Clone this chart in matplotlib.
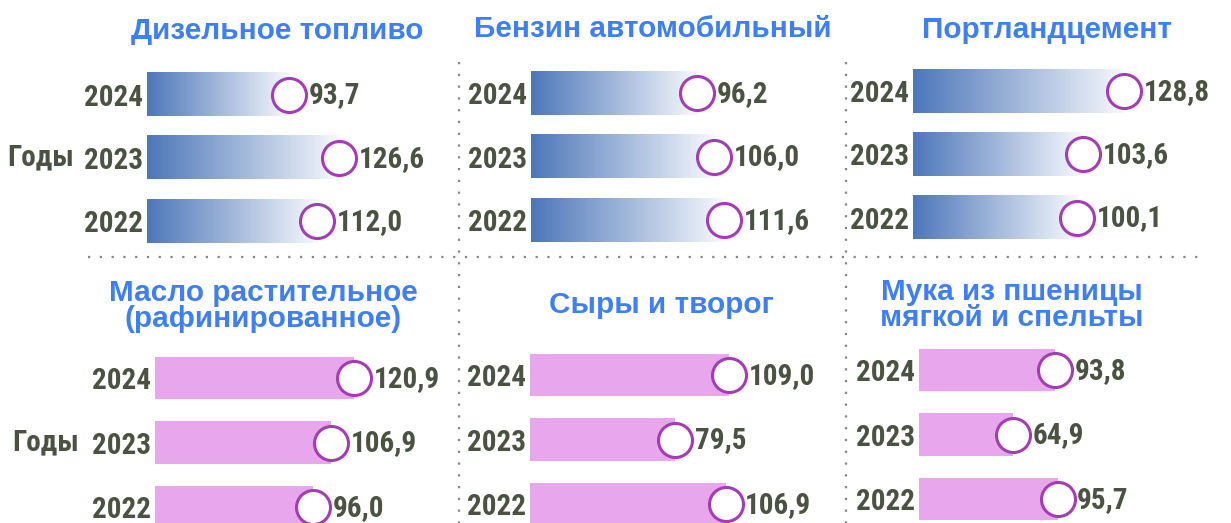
"""Six small bar panels: price indices by product, 2022-2024."""

import matplotlib

matplotlib.use("Agg")
import matplotlib.pyplot as plt
import numpy as np
from matplotlib.colors import LinearSegmentedColormap
from matplotlib.lines import Line2D

years = ["2024", "2023", "2022"]

titles = [
    "Дизельное топливо",
    "Бензин автомобильный",
    "Портландцемент",
    "Масло растительное\n(рафинированное)",
    "Сыры и творог",
    "Мука из пшеницы\nмягкой и спельты",
]

diesel = [93.7, 126.6, 112.0]
petrol = [96.2, 106.0, 111.6]
cement = [128.8, 103.6, 100.1]
oil = [120.9, 106.9, 96.0]
cheese = [109.0, 79.5, 106.9]
flour = [93.8, 64.9, 95.7]

series = [diesel, petrol, cement, oil, cheese, flour]

W, H = 1231, 523
NUM_FONT = ["Roboto Condensed", "PT Sans Narrow", "DejaVu Sans"]
TITLE_FONT = ["Liberation Sans", "DejaVu Sans"]
NUM_SIZE = 21
TXT = "#4a5342"
BLUE_T = "#3f7ff5"
PINK = "#e8a6ec"
RING = "#a33cb5"
blue_cmap = LinearSegmentedColormap.from_list("fade", ["#4d77b9", "#f7f9fd"])

# panel layout in pixels: bar start x, top y, row step, px per unit, title centre
layout = [
    dict(x0=147, top=63.0, step=63.3, scale=1.52, tx=277, ty=31),
    dict(x0=531, top=61.3, step=63.5, scale=1.73, tx=653, ty=29),
    dict(x0=913, top=59.4, step=63.3, scale=1.64, tx=1047, ty=30),
    dict(x0=155, top=345.8, step=64.5, scale=1.65, tx=263, ty=306),
    dict(x0=530, top=342.8, step=64.5, scale=1.83, tx=661, ty=305),
    dict(x0=919, top=337.8, step=64.5, scale=1.45, tx=1012, ty=305),
]


def px_rect(left, top, width, height):
    return [left / W, 1 - (top + height) / H, width / W, height / H]


fig = plt.figure(figsize=(W / 100, H / 100), dpi=100)

ypos = np.array([2, 1, 0])
for i, (vals, lay, title) in enumerate(zip(series, layout, titles)):
    width_px = 330
    ax = fig.add_axes(px_rect(lay["x0"], lay["top"], width_px, 3 * lay["step"]))
    top_row = i < 3
    h = 0.68 if top_row else 0.66
    for v, y in zip(vals, ypos):
        if top_row:
            ax.imshow(np.linspace(0, 1, 256).reshape(1, -1), cmap=blue_cmap,
                      extent=(0, v, y - h / 2, y + h / 2), aspect="auto", zorder=1)
        else:
            ax.barh(y, v, height=h, color=PINK, zorder=1)
    ax.plot(vals, ypos, "o", ms=24.5, mfc="white", mec=RING, mew=2.2,
            zorder=3, clip_on=False)
    for v, y in zip(vals, ypos):
        ax.annotate(f"{v:.1f}".replace(".", ","), (v, y), xytext=(14, -0.5),
                    textcoords="offset points", ha="left", va="center",
                    fontsize=NUM_SIZE, fontweight="bold", color=TXT, family=NUM_FONT,
                    annotation_clip=False)
    ax.set_xlim(0, width_px / lay["scale"])
    ax.set_ylim(-0.5, 2.5)
    ax.set_yticks(ypos)
    ax.set_yticklabels(years, fontsize=NUM_SIZE, fontweight="bold", color=TXT,
                       family=NUM_FONT)
    ax.tick_params(axis="y", length=0, pad=3)
    ax.set_xticks([])
    for s in ax.spines.values():
        s.set_visible(False)
    ax.patch.set_alpha(0)
    fig.text(lay["tx"] / W, 1 - lay["ty"] / H, title, ha="center", va="center",
             fontsize=21.4, fontweight="bold", color=BLUE_T, family=TITLE_FONT,
             linespacing=0.95)

for x, y in [(41, 157), (46, 442)]:
    fig.text(x / W, 1 - y / H, "Годы", ha="center", va="center", fontsize=NUM_SIZE,
             fontweight="bold", color=TXT, family=NUM_FONT)

dots = dict(color="#858585", lw=1.6, linestyle=(0, (1, 4.3)))
fig.add_artist(Line2D([88 / W, 1200 / W], [1 - 257 / H, 1 - 257 / H], **dots))
for x in (459, 846):
    fig.add_artist(Line2D([x / W, x / W], [1 - 62 / H, 0], **dots))

fig.savefig("out.png", dpi=100)
plt.close(fig)
